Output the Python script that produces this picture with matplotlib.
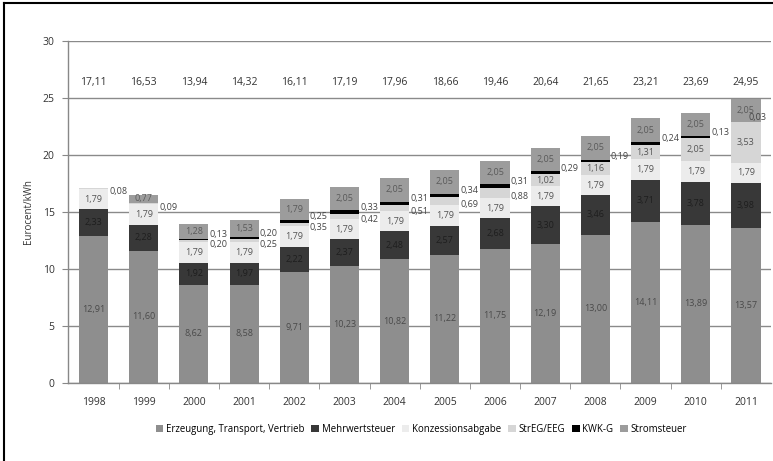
import matplotlib
matplotlib.use("Agg")
import matplotlib.pyplot as plt
import numpy as np
from matplotlib.lines import Line2D
from matplotlib.patches import Patch

# Strompreis-Zusammensetzung Haushalte, Eurocent/kWh
years = ['1998', '1999', '2000', '2001', '2002', '2003', '2004',
         '2005', '2006', '2007', '2008', '2009', '2010', '2011']
erzeugung = [12.91, 11.60, 8.62, 8.58, 9.71, 10.23, 10.82,
             11.22, 11.75, 12.19, 13.00, 14.11, 13.89, 13.57]
mwst = [2.33, 2.28, 1.92, 1.97, 2.22, 2.37, 2.48,
        2.57, 2.68, 3.30, 3.46, 3.71, 3.78, 3.98]
konzession = [1.79, 1.79, 1.79, 1.79, 1.79, 1.79, 1.79,
              1.79, 1.79, 1.79, 1.79, 1.79, 1.79, 1.79]
eeg = [0.08, 0.09, 0.20, 0.25, 0.35, 0.42, 0.51,
       0.69, 0.88, 1.02, 1.16, 1.31, 2.05, 3.53]
kwk = [0.00, 0.00, 0.13, 0.20, 0.25, 0.33, 0.31,
       0.34, 0.31, 0.29, 0.19, 0.24, 0.13, 0.03]
stromsteuer = [0.00, 0.77, 1.28, 1.53, 1.79, 2.05, 2.05,
               2.05, 2.05, 2.05, 2.05, 2.05, 2.05, 2.05]
totals = [17.11, 16.53, 13.94, 14.32, 16.11, 17.19, 17.96,
          18.66, 19.46, 20.64, 21.65, 23.21, 23.69, 24.95]

series = [
    ('Erzeugung, Transport, Vertrieb', erzeugung, '#8e8e8e', '#4a4a4a'),
    ('Mehrwertsteuer', mwst, '#383838', '#1e1e1e'),
    ('Konzessionsabgabe', konzession, '#ececec', '#555555'),
    ('StrEG/EEG', eeg, '#d6d6d6', '#555555'),
    ('KWK-G', kwk, '#000000', '#000000'),
    ('Stromsteuer', stromsteuer, '#9c9c9c', '#5a5a5a'),
]


def fmt(v):
    return f"{v:.2f}".replace('.', ',')


plt.rcParams['font.family'] = ['Open Sans', 'DejaVu Sans']
fig = plt.figure(figsize=(7.73, 4.61), dpi=100)
ax = fig.add_axes([0.0885, 0.170, 0.909, 0.7406])

x = np.arange(len(years))
width = 0.58
bottom = np.zeros(len(years))
bar_right = x + width / 2
xmax = len(years) - 0.5

for name, vals, color, tcolor in series:
    vals = np.array(vals)
    ax.bar(x, vals, width, bottom=bottom, color=color, label=name,
           edgecolor='none', zorder=2)
    for i, v in enumerate(vals):
        if v <= 0:
            continue
        mid = bottom[i] + v / 2
        # kleine Werte rechts neben dem Balken, am Rand nach innen geschoben
        side_x = min(bar_right[i] + 0.02, xmax - 0.44)
        if name == 'KWK-G':
            ax.text(side_x, mid + 0.4, fmt(v), fontsize=6.5,
                    color='#444444', ha='left', va='center', zorder=3)
        elif name == 'StrEG/EEG' and v < 1.0:
            ax.text(side_x, mid - 0.3, fmt(v), fontsize=6.5,
                    color='#444444', ha='left', va='center', zorder=3)
        else:
            ax.text(x[i], mid, fmt(v), fontsize=6.5, color=tcolor,
                    ha='center', va='center', zorder=3)
    bottom += vals

# Gesamtpreis oberhalb der Balken
for i, t in enumerate(totals):
    ax.text(x[i], 26.4, fmt(t), fontsize=7.5, color='#333333',
            ha='center', va='center')

ax.set_xlim(-0.5, xmax)
ax.set_ylim(0, 30)
ax.set_yticks(range(0, 31, 5))
ax.yaxis.grid(True, color='#8a8a8a', linewidth=1.0, zorder=0)
ax.set_axisbelow(True)

ax.set_xticks(x)
ax.set_xticklabels(years)
ax.set_xticks(np.arange(len(years) - 1) + 0.5, minor=True)
ax.tick_params(axis='x', which='major', length=0, pad=10,
               labelsize=7.5, labelcolor='#333333')
ax.tick_params(axis='x', which='minor', length=4, color='#888888',
               direction='out')
ax.tick_params(axis='y', length=4, color='#888888', labelsize=7.5,
               labelcolor='#333333', pad=6)

for side in ['top', 'right']:
    ax.spines[side].set_visible(False)
for side in ['left', 'bottom']:
    ax.spines[side].set_color('#888888')
    ax.spines[side].set_linewidth(1.0)

ax.set_ylabel('Eurocent/kWh', fontsize=7, color='#333333', labelpad=6)

handles = [Patch(facecolor=c, edgecolor='none') for _, _, c, _ in series]
labels = [n for n, _, _, _ in series]
fig.legend(handles, labels, loc='center', bbox_to_anchor=(0.545, 0.069),
           ncol=6, frameon=False, fontsize=6.9, handlelength=0.8,
           handleheight=0.8, handletextpad=0.3, columnspacing=0.7)

# Rahmen oben und links
fig.add_artist(Line2D([4 / 773, 1], [1 - 3.5 / 461, 1 - 3.5 / 461],
                      transform=fig.transFigure, color='black', linewidth=1.5))
fig.add_artist(Line2D([4 / 773, 4 / 773], [0, 1 - 3.5 / 461],
                      transform=fig.transFigure, color='black', linewidth=1.5))

fig.savefig('out.png', dpi=100)
